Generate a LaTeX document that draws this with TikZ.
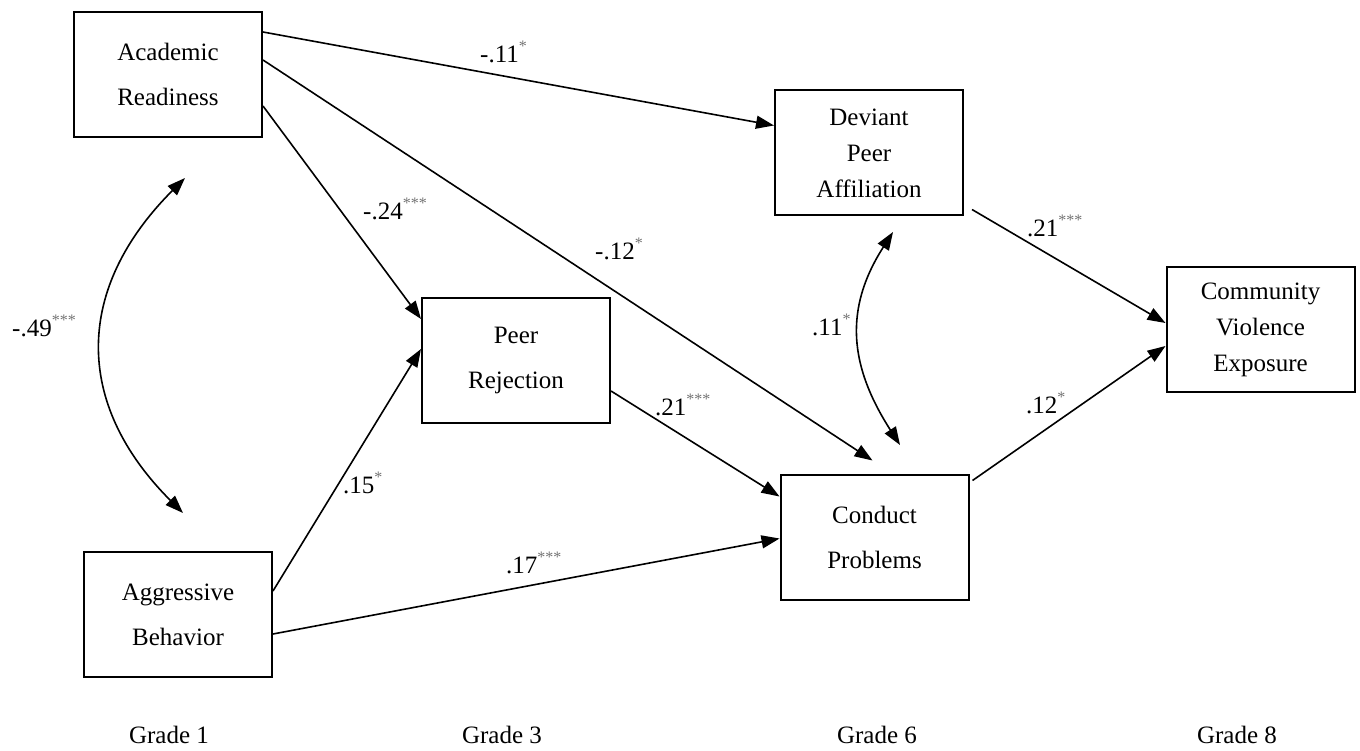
\documentclass[tikz,border=0pt]{standalone}
\usepackage{fontspec}
\setmainfont{Liberation Serif}
\usetikzlibrary{arrows.meta,calc}
\newcommand\sig[1]{\raisebox{11pt}{\fontsize{16}{16}\selectfont\color{black!55}#1}}
\begin{document}
\begin{tikzpicture}[x=1pt,y=-1pt,
  box/.style={draw, line width=2pt, minimum width=188pt, minimum height=125pt, inner sep=0pt, align=center, font=\fontsize{25}{45}\selectfont},
  boxthree/.style={box, font=\fontsize{25}{36}\selectfont},
  edgearrow/.style={line width=1.6pt, -{Triangle[length=18pt,width=13pt]}},
  dblarrow/.style={line width=1.6pt, {Triangle[length=18pt,width=13pt]}-{Triangle[length=18pt,width=13pt]}},
  lbl/.style={anchor=base west, inner sep=0pt, font=\fontsize{25}{30}\selectfont},
  grade/.style={anchor=base, inner sep=0pt, font=\fontsize{25}{30}\selectfont}]
\useasboundingbox (0,0) rectangle (1360,751);

% boxes
\node[box] (AR) at (168,74.5) {Academic\\Readiness};
\node[box] (AB) at (178,614.5) {Aggressive\\Behavior};
\node[box] (PR) at (516,360.5) {Peer\\Rejection};
\node[boxthree] (DPA) at (869,153) {Deviant\\Peer\\Affiliation};
\node[box] (CP) at (874.5,537) {Conduct\\Problems};
\node[boxthree] (CVE) at (1260.5,329.5) {Community\\Violence\\Exposure};

% straight paths
\draw[edgearrow] ($(AR.north east)+(0,21)$) -- ($(DPA.north west)+(0,36)$);
\draw[edgearrow] ($(AR.north east)+(0,95)$) -- ($(PR.north west)+(0,22)$);
\draw[edgearrow] ($(AR.north east)+(0,49)$) -- ($(CP.north west)+(93,-13)$);
\draw[edgearrow] ($(AB.north east)+(0,40)$) -- ($(PR.north west)+(0,52)$);
\draw[edgearrow] ($(AB.north east)+(0,83)$) -- ($(CP.north west)+(0,65)$);
\draw[edgearrow] ($(PR.north east)+(0,94)$) -- ($(CP.north west)+(0,23)$);
\draw[edgearrow] ($(DPA.south east)+(8,-7)$) -- ($(CVE.north west)+(0,57)$);
\draw[edgearrow] ($(CP.north east)+(3,7)$) -- ($(CVE.north west)+(0,80)$);

% correlations
\coordinate (c1) at (185,178);
\coordinate (c2) at (183,513);
\draw[dblarrow] (c1) .. controls (75,288) and (73,403) .. (c2);
\coordinate (d1) at (893,232);
\coordinate (d2) at (900,445);
\draw[dblarrow] (d1) .. controls (843,310) and (850,367) .. (d2);

% labels
\node[lbl] (l1) at (480,63) {-.11\sig{*}};
\node[lbl] (l2) at (363,220) {-.24\sig{***}};
\node[lbl] (l3) at (595,260) {-.12\sig{*}};
\node[lbl] (l4) at (343,493) {.15\sig{*}};
\node[lbl] (l5) at (506,573) {.17\sig{***}};
\node[lbl] (l6) at (655,415) {.21\sig{***}};
\node[lbl] (l7) at (1027,237) {.21\sig{***}};
\node[lbl] (l8) at (1026,413) {.12\sig{*}};
\node[lbl] (l9) at (12,337) {-.49\sig{***}};
\node[lbl] (l10) at (812,335) {.11\sig{*}};

% grades
\node[grade] (g1) at (169,743) {Grade 1};
\node[grade] (g3) at (502,743) {Grade 3};
\node[grade] (g6) at (877,743) {Grade 6};
\node[grade] (g8) at (1237,743) {Grade 8};
\end{tikzpicture}
\end{document}
